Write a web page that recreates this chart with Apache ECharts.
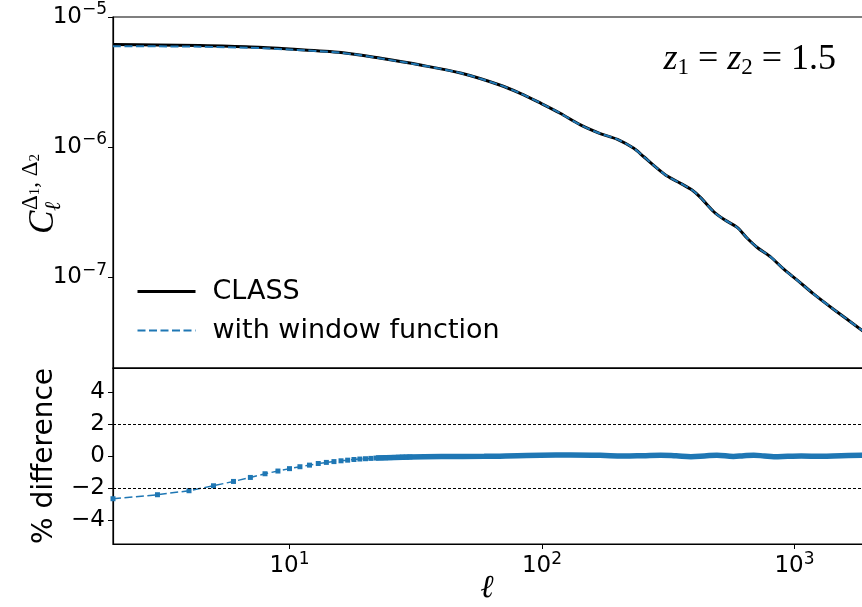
<!DOCTYPE html>
<html>
<head>
<meta charset="utf-8">
<script src="https://cdn.jsdelivr.net/npm/echarts@6/dist/echarts.min.js"></script>
<style>
  html, body { margin: 0; padding: 0; background: #fff; }
  #chart { width: 862px; height: 607px; }
</style>
</head>
<body>
<div id="chart"></div>
<script>
// multipole values and C_ell
var ell = [2, 3, 4.4, 7, 10, 16, 23, 33, 48, 68, 82, 99, 118, 142, 170, 199, 231, 253, 286, 313,
  354, 393, 424, 479, 525, 593, 650, 712, 804, 907, 1025, 1193, 1431, 1868];
var clClass = [6.14e-6, 6.10e-6, 6.03e-6, 5.88e-6, 5.67e-6, 5.33e-6, 4.81e-6, 4.27e-6, 3.69e-6, 3.00e-6,
  2.59e-6, 2.17e-6, 1.82e-6, 1.48e-6, 1.27e-6, 1.146e-6, 9.77e-7, 8.42e-7, 6.85e-7, 5.98e-7,
  5.26e-7, 4.67e-7, 4.10e-7, 3.18e-7, 2.78e-7, 2.41e-7, 1.99e-7, 1.69e-7, 1.43e-7, 1.15e-7,
  9.48e-8, 7.40e-8, 5.64e-8, 3.85e-8];
var clWindow = [5.97e-6, 5.95e-6, 5.91e-6, 5.80e-6, 5.62e-6, 5.31e-6, 4.80e-6, 4.27e-6, 3.69e-6, 3.00e-6,
  2.59e-6, 2.17e-6, 1.82e-6, 1.48e-6, 1.27e-6, 1.146e-6, 9.77e-7, 8.42e-7, 6.85e-7, 5.98e-7,
  5.26e-7, 4.67e-7, 4.10e-7, 3.18e-7, 2.78e-7, 2.41e-7, 1.99e-7, 1.69e-7, 1.43e-7, 1.15e-7,
  9.48e-8, 7.40e-8, 5.64e-8, 3.85e-8];

// % difference, low ell (one marker per integer ell)
var diffEll = [2, 3, 4, 5, 6, 7, 8, 9, 10, 11, 12, 13, 14, 15, 16, 17, 18, 19, 20, 21, 22, 23, 24, 25, 26, 27, 28, 29, 30];
var diffVals = [-2.67, -2.42, -2.17, -1.86, -1.59, -1.34, -1.11, -0.94, -0.79, -0.67, -0.57, -0.47, -0.40, -0.35,
  -0.30, -0.26, -0.22, -0.19, -0.17, -0.15, -0.13, -0.12, -0.11, -0.10, -0.09, -0.08, -0.07, -0.07, -0.06];
// % difference, high ell (markers merge into a band)
var bandEll = [22, 30, 40, 59, 80, 99, 130, 170, 210, 250, 295, 340, 389, 440, 493, 573, 630, 690, 760, 829,
  940, 1064, 1276, 1531, 1868];
var bandVals = [-0.13, -0.06, -0.03, -0.02, 0.02, 0.05, 0.06, 0.04, 0.0, 0.02, 0.05, 0.01, -0.04, 0.0, 0.05,
  -0.03, 0.02, 0.05, 0.0, -0.04, -0.02, 0.0, -0.02, 0.02, 0.05];
var refLines = [2, -2];

var ellMin = 2, ellMax = 1868;
var clMin = 2e-8, clMax = 1e-5;
var diffMin = -5.5, diffMax = 5.5;

var blue = '#1f77b4';
var font = 'DejaVu Sans';

function zip(xs, ys) {
  return xs.map(function (x, i) { return [x, ys[i]]; });
}
function minus(s) {
  return String(s).replace('-', '\u2212');
}
function powLabel(v) {
  var e = Math.round(Math.log10(v));
  return '10{sup|' + minus(e) + '}';
}
var powRich = {
  sup: { fontSize: 17, fontFamily: font, color: '#000', padding: [0, 0, 14, 0] }
};

var chart = echarts.init(document.getElementById('chart'));
var option = {
  animation: false,
  backgroundColor: '#fff',
  grid: [
    { left: 113, right: -1, top: 17, height: 351, show: true, borderColor: '#000', borderWidth: 1.2, outerBoundsMode: 'none', containLabel: false },
    { left: 113, right: -1, top: 368, height: 176, show: true, borderColor: '#000', borderWidth: 1.2, outerBoundsMode: 'none', containLabel: false }
  ],
  xAxis: [
    {
      type: 'log', gridIndex: 0, min: ellMin, max: ellMax,
      axisLine: { onZero: false, lineStyle: { color: '#000', width: 1.2 } },
      axisTick: { show: false }, axisLabel: { show: false }, splitLine: { show: false }
    },
    {
      type: 'log', gridIndex: 1, min: ellMin, max: ellMax,
      axisLine: { onZero: false, lineStyle: { color: '#000', width: 1.2 } },
      axisTick: { length: 5, lineStyle: { color: '#000' } },
      axisLabel: {
        color: '#000', fontSize: 23, fontFamily: font, margin: 7,
        showMinLabel: false, showMaxLabel: false,
        formatter: powLabel, rich: powRich
      },
      splitLine: { show: false }
    }
  ],
  yAxis: [
    {
      type: 'log', gridIndex: 0, min: clMin, max: clMax,
      axisLine: { onZero: false, lineStyle: { color: '#000', width: 1.2 } },
      axisTick: { length: 5, lineStyle: { color: '#000' } },
      axisLabel: {
        color: '#000', fontSize: 23, fontFamily: font, margin: 6,
        showMinLabel: false,
        formatter: powLabel, rich: powRich
      },
      splitLine: { show: false }
    },
    {
      type: 'value', gridIndex: 1, min: diffMin, max: diffMax,
      axisLine: { onZero: false, lineStyle: { color: '#000', width: 1.2 } },
      axisTick: { length: 5, lineStyle: { color: '#000' } },
      axisLabel: {
        color: '#000', fontSize: 23, fontFamily: font, margin: 8,
        showMinLabel: false, showMaxLabel: false,
        formatter: function (v) { return minus(v); }
      },
      splitLine: { show: false },
      name: '% difference', nameLocation: 'middle', nameGap: 54, nameMoveOverlap: false,
      nameTextStyle: { fontSize: 28, fontFamily: font, color: '#000' }
    }
  ],
  legend: {
    data: [
      { name: 'CLASS', itemStyle: { opacity: 0 }, lineStyle: { width: 3, color: '#000' } },
      { name: 'with window function', itemStyle: { opacity: 0 } }
    ],
    orient: 'vertical', left: 131, top: 273,
    itemWidth: 58, itemHeight: 14, itemGap: 12,
    textStyle: { fontSize: 27, fontFamily: font, color: '#000', padding: [0, 0, 0, 12] }
  },
  graphic: [
    {
      type: 'text', right: 26, top: 42,
      style: {
        text: '{i|z}{s|1}{n| = }{i|z}{s|2}{n| = 1.5}',
        fill: '#000',
        rich: {
          i: { fontSize: 36, fontFamily: 'Liberation Serif', fontStyle: 'italic' },
          s: { fontSize: 23, fontFamily: 'Liberation Serif', padding: [16, 0, 0, 0] },
          n: { fontSize: 36, fontFamily: 'Liberation Serif' }
        }
      }
    },
    {
      type: 'text', x: 487, y: 589,
      style: {
        text: '\u2113', fontSize: 32, fontFamily: 'Liberation Serif', fontStyle: 'italic',
        fill: '#000', align: 'center', verticalAlign: 'middle'
      }
    },
    {
      type: 'group', x: 44, y: 234, rotation: Math.PI / 2,
      children: [
        { type: 'text', x: 0, y: 0, style: { text: 'C', fontSize: 35, fontFamily: 'Liberation Serif', fontStyle: 'italic', fill: '#000', verticalAlign: 'middle' } },
        { type: 'text', x: 23, y: 10, style: { text: '\u2113', fontSize: 22, fontFamily: 'Liberation Serif', fontStyle: 'italic', fill: '#000', verticalAlign: 'middle' } },
        {
          type: 'text', x: 24, y: -13,
          style: {
            text: '\u0394{s|1}, \u0394{s|2}', fontSize: 23, fontFamily: 'Liberation Serif', fill: '#000', verticalAlign: 'middle',
            rich: { s: { fontSize: 15, fontFamily: 'Liberation Serif', padding: [9, 0, 0, 0] } }
          }
        }
      ]
    }
  ],
  series: [
    {
      name: 'CLASS', type: 'line', xAxisIndex: 0, yAxisIndex: 0,
      data: zip(ell, clClass), symbol: 'none', smooth: 0.3,
      color: '#000', lineStyle: { color: '#000', width: 3 }, z: 2
    },
    {
      name: 'with window function', type: 'line', xAxisIndex: 0, yAxisIndex: 0,
      data: zip(ell, clWindow), symbol: 'none', smooth: 0.3,
      color: blue, lineStyle: { color: blue, width: 2, type: [8, 3.5] }, z: 3
    },
    {
      name: 'diff', type: 'line', xAxisIndex: 1, yAxisIndex: 1,
      data: zip(diffEll, diffVals), symbol: 'rect', symbolSize: 5, showAllSymbol: true,
      color: blue, itemStyle: { color: blue },
      lineStyle: { color: blue, width: 1.5, type: [8, 3.5] }, z: 3,
      markLine: {
        silent: true, symbol: 'none', label: { show: false },
        lineStyle: { color: '#000', width: 1, type: [3, 2] },
        data: refLines.map(function (v) { return { yAxis: v }; })
      }
    },
    {
      name: 'diff band', type: 'line', xAxisIndex: 1, yAxisIndex: 1,
      data: zip(bandEll, bandVals), symbol: 'none', smooth: 0.4,
      color: blue, lineStyle: { color: blue, width: 5.5 }, z: 3
    }
  ]
};
chart.setOption(option);
</script>
</body>
</html>
